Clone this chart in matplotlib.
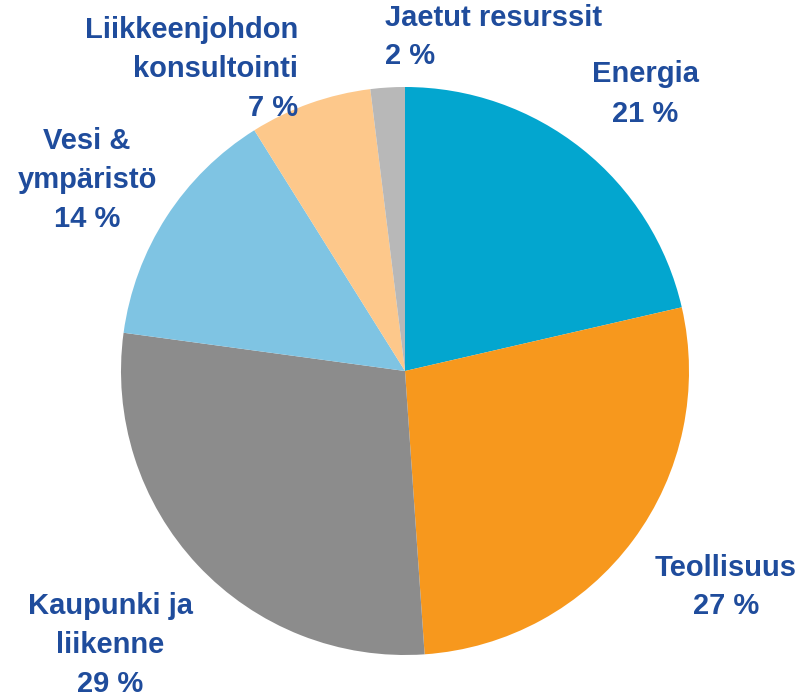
import matplotlib.pyplot as plt

# slices clockwise from 12 o'clock
sectors = ["Energia", "Teollisuus", "Kaupunki ja liikenne", "Vesi & ympäristö",
           "Liikkeenjohdon konsultointi", "Jaetut resurssit"]
shares = [21.4, 27.5, 28.25, 13.95, 6.95, 1.95]
labels = ["Energia\n21 %", "Teollisuus\n27 %", "Kaupunki ja\nliikenne\n29 %",
          "Vesi &\nympäristö\n14 %", "Liikkeenjohdon\nkonsultointi\n7 %",
          "Jaetut resurssit\n2 %"]
colors = ["#03A6CF", "#F7981D", "#8C8C8C", "#7FC4E3", "#FDC88B", "#B8B8B8"]

W, H = 811, 700
cx, cy, r = 405, 371, 284

fig = plt.figure(figsize=(W / 100, H / 100), dpi=100)
ax = fig.add_axes([0, 0, 1, 1])
ax.pie(shares, colors=colors, startangle=90, counterclock=False,
       wedgeprops=dict(linewidth=0))
ax.set_xlim(-cx / r, (W - cx) / r)
ax.set_ylim(-(H - cy) / r, cy / r)
ax.set_aspect("equal")
ax.axis("off")

# label placement in pixels: (x, y, ha)
spots = [(645, 94, "center"), (726, 587, "center"), (110, 645, "center"),
         (87, 180, "center"), (298, 69, "right"), (385, 37, "left")]
for text, (px, py, ha) in zip(labels, spots):
    fig.text(px / W, 1 - py / H, text, ha=ha, va="center", multialignment=ha,
             fontsize=21, fontweight="bold", color="#1F4C9C",
             family="Liberation Sans", linespacing=1.5)

fig.savefig("out.png", dpi=100)
